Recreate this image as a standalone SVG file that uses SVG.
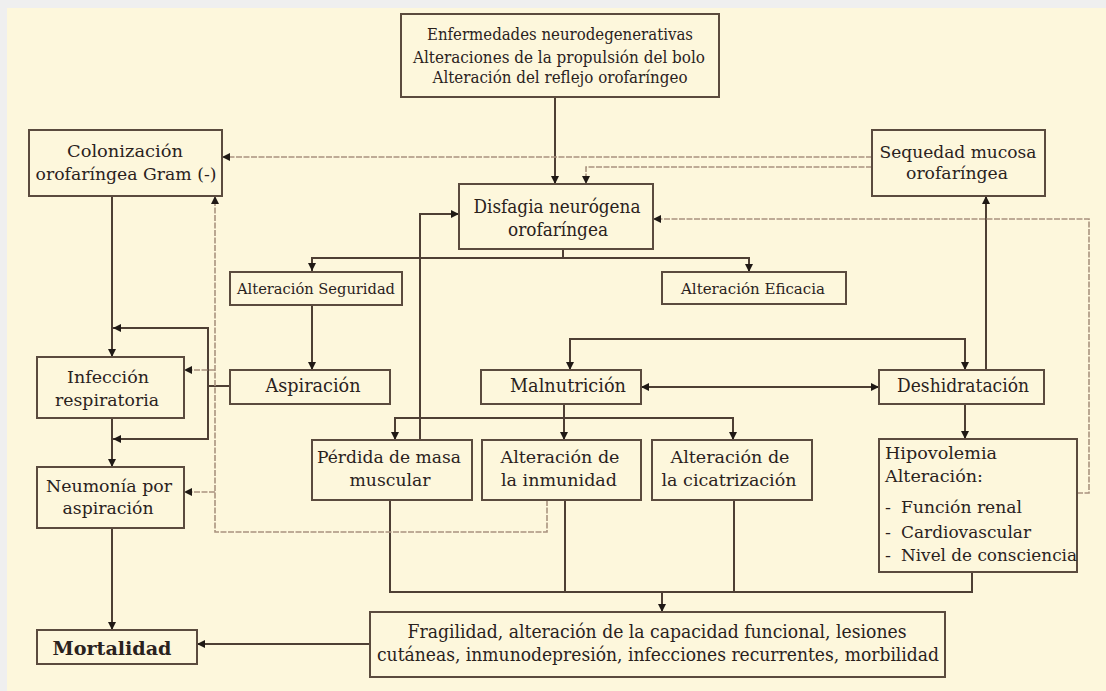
<svg xmlns="http://www.w3.org/2000/svg" width="1106" height="691" viewBox="0 0 1106 691">
<defs>
<style>
.bx{fill:#fdf7dc;stroke:#5b4b3e;stroke-width:2}
.t{font-family:"DejaVu Serif","Liberation Serif",serif;fill:#2a221d;text-anchor:middle}
.tl{font-family:"DejaVu Serif","Liberation Serif",serif;fill:#2a221d;text-anchor:start}
.s{fill:none;stroke:#4e3f34;stroke-width:2}
.d{fill:none;stroke:#a9937f;stroke-width:1.6;stroke-dasharray:6 1.5}
.a{marker-end:url(#ar)}
</style>
<marker id="ar" viewBox="0 0 10 10" refX="10" refY="5" markerWidth="9" markerHeight="8" markerUnits="userSpaceOnUse" orient="auto-start-reverse">
<path d="M0,0 L10,5 L0,10 z" fill="#1f1915"/>
</marker>
</defs>
<rect x="0" y="0" width="1106" height="691" fill="#efefef"/>
<rect x="7" y="8" width="1099" height="683" fill="#fdf7dc"/>

<g id="connectors">
<path class="s a" d="M555,97 V184"/>
<path class="s a" d="M563,249 V258 H312 V271"/>
<path class="s a" d="M563,258 H749 V272"/>
<path class="s a" d="M420,440 V214 H459"/>
<path class="s a" d="M312,305 V370"/>
<path class="s a" d="M112,196 V357"/>
<path class="s a" d="M230,386 H208 V328 H113"/>
<path class="s a" d="M208,386 V439 H113"/>
<path class="s a" d="M112,418 V467"/>
<path class="s a" d="M112,528 V630"/>
<path class="s a" d="M370,644 H197"/>
<path class="s a" d="M641,387 H879" marker-start="url(#ar)"/>
<path class="s a" d="M570,370 V339 H965 V370" marker-start="url(#ar)"/>
<path class="s a" d="M986,370 V196"/>
<path class="s a" d="M965,404 V439"/>
<path class="s a" d="M564,404 V418 H395 V440"/>
<path class="s a" d="M564,418 V440"/>
<path class="s a" d="M564,418 H733 V440"/>
<path class="s" d="M390,500 V592 H972 V572"/>
<path class="s" d="M565,500 V592"/>
<path class="s" d="M734,500 V592"/>
<path class="s a" d="M662,592 V612"/>
<path class="d a" d="M872,157 H222"/>
<path class="d a" d="M872,167 H586 V184"/>
<path class="d a" d="M1077,493 H1089 V219 H653"/>
<path class="d a" d="M547,500 V532 H215 V196"/>
<path class="d a" d="M215,370 H184"/>
<path class="d a" d="M215,492 H184"/>
</g>

<g id="n-causas">
<rect class="bx" x="401" y="14" width="318" height="83"/>
<text class="t" font-size="16" x="560" y="40" textLength="266" lengthAdjust="spacingAndGlyphs">Enfermedades neurodegenerativas</text>
<text class="t" font-size="16" x="559" y="63" textLength="292" lengthAdjust="spacingAndGlyphs">Alteraciones de la propulsión del bolo</text>
<text class="t" font-size="16" x="560" y="83" textLength="255" lengthAdjust="spacingAndGlyphs">Alteración del reflejo orofaríngeo</text>
</g>

<g id="n-colonizacion">
<rect class="bx" x="29" y="130" width="193" height="66"/>
<text class="t" font-size="17.5" x="125" y="157" textLength="116" lengthAdjust="spacingAndGlyphs">Colonización</text>
<text class="t" font-size="17.5" x="126" y="180" textLength="181" lengthAdjust="spacingAndGlyphs">orofaríngea Gram (-)</text>
</g>

<g id="n-sequedad">
<rect class="bx" x="872" y="130" width="173" height="66"/>
<text class="t" font-size="17.5" x="958" y="158" textLength="157" lengthAdjust="spacingAndGlyphs">Sequedad mucosa</text>
<text class="t" font-size="17.5" x="957" y="179" textLength="102" lengthAdjust="spacingAndGlyphs">orofaríngea</text>
</g>

<g id="n-disfagia">
<rect class="bx" x="459" y="184" width="194" height="65"/>
<text class="t" font-size="18" x="557" y="213" textLength="167" lengthAdjust="spacingAndGlyphs">Disfagia neurógena</text>
<text class="t" font-size="18" x="558" y="236" textLength="100" lengthAdjust="spacingAndGlyphs">orofaríngea</text>
</g>

<g id="n-seguridad">
<rect class="bx" x="230" y="272" width="172" height="33"/>
<text class="t" font-size="15" x="316" y="293.5" textLength="158" lengthAdjust="spacingAndGlyphs">Alteración Seguridad</text>
</g>

<g id="n-eficacia">
<rect class="bx" x="662" y="272" width="184" height="32"/>
<text class="t" font-size="15" x="753" y="293.5" textLength="144" lengthAdjust="spacingAndGlyphs">Alteración Eficacia</text>
</g>

<g id="n-infeccion">
<rect class="bx" x="37" y="357" width="147" height="61"/>
<text class="t" font-size="17.5" x="108" y="383" textLength="82" lengthAdjust="spacingAndGlyphs">Infección</text>
<text class="t" font-size="17.5" x="107" y="406" textLength="104" lengthAdjust="spacingAndGlyphs">respiratoria</text>
</g>

<g id="n-aspiracion">
<rect class="bx" x="230" y="370" width="160" height="34"/>
<text class="t" font-size="18" x="313" y="391.5" textLength="95" lengthAdjust="spacingAndGlyphs">Aspiración</text>
</g>

<g id="n-malnutricion">
<rect class="bx" x="481" y="370" width="160" height="34"/>
<text class="t" font-size="18" x="568" y="391.5" textLength="116" lengthAdjust="spacingAndGlyphs">Malnutrición</text>
</g>

<g id="n-deshidratacion">
<rect class="bx" x="879" y="370" width="165" height="34"/>
<text class="t" font-size="18" x="963" y="392" textLength="132" lengthAdjust="spacingAndGlyphs">Deshidratación</text>
</g>

<g id="n-perdida">
<rect class="bx" x="312" y="440" width="160" height="60"/>
<text class="t" font-size="17.5" x="389" y="463" textLength="144" lengthAdjust="spacingAndGlyphs">Pérdida de masa</text>
<text class="t" font-size="17.5" x="390" y="486" textLength="81" lengthAdjust="spacingAndGlyphs">muscular</text>
</g>

<g id="n-inmunidad">
<rect class="bx" x="482" y="440" width="159" height="60"/>
<text class="t" font-size="17.5" x="560" y="463" textLength="119" lengthAdjust="spacingAndGlyphs">Alteración de</text>
<text class="t" font-size="17.5" x="559" y="486" textLength="116" lengthAdjust="spacingAndGlyphs">la inmunidad</text>
</g>

<g id="n-cicatrizacion">
<rect class="bx" x="652" y="440" width="160" height="60"/>
<text class="t" font-size="17.5" x="730" y="463" textLength="119" lengthAdjust="spacingAndGlyphs">Alteración de</text>
<text class="t" font-size="17.5" x="729" y="486" textLength="135" lengthAdjust="spacingAndGlyphs">la cicatrización</text>
</g>

<g id="n-hipovolemia">
<rect class="bx" x="879" y="439" width="198" height="133"/>
<text class="tl" font-size="17.5" x="885" y="459" textLength="112" lengthAdjust="spacingAndGlyphs">Hipovolemia</text>
<text class="tl" font-size="17.5" x="885" y="482" textLength="98" lengthAdjust="spacingAndGlyphs">Alteración:</text>
<text class="tl" font-size="17.5" x="885" y="513">-</text>
<text class="tl" font-size="17.5" x="901" y="513" textLength="121" lengthAdjust="spacingAndGlyphs">Función renal</text>
<text class="tl" font-size="17.5" x="885" y="538">-</text>
<text class="tl" font-size="17.5" x="901" y="538" textLength="130" lengthAdjust="spacingAndGlyphs">Cardiovascular</text>
<text class="tl" font-size="17.5" x="885" y="561">-</text>
<text class="tl" font-size="17.5" x="901" y="561" textLength="176" lengthAdjust="spacingAndGlyphs">Nivel de consciencia</text>
</g>

<g id="n-neumonia">
<rect class="bx" x="37" y="467" width="147" height="61"/>
<text class="t" font-size="17.5" x="109" y="492" textLength="126" lengthAdjust="spacingAndGlyphs">Neumonía por</text>
<text class="t" font-size="17.5" x="108" y="514" textLength="91" lengthAdjust="spacingAndGlyphs">aspiración</text>
</g>

<g id="n-mortalidad">
<rect class="bx" x="37" y="630" width="160" height="34"/>
<text class="t" font-size="19" font-weight="bold" x="112" y="654.5" textLength="119" lengthAdjust="spacingAndGlyphs">Mortalidad</text>
</g>

<g id="n-fragilidad">
<rect class="bx" x="370" y="612" width="575" height="65"/>
<text class="t" font-size="18" x="657" y="638" textLength="499" lengthAdjust="spacingAndGlyphs">Fragilidad, alteración de la capacidad funcional, lesiones</text>
<text class="t" font-size="18" x="658" y="661" textLength="562" lengthAdjust="spacingAndGlyphs">cutáneas, inmunodepresión, infecciones recurrentes, morbilidad</text>
</g>
</svg>
